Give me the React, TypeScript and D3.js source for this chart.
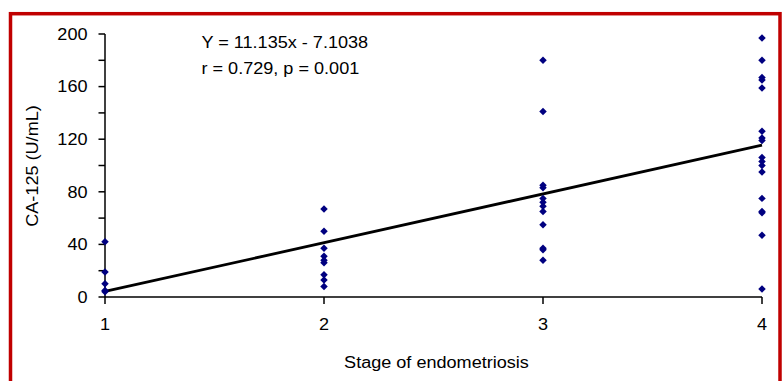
import React from "react";
import * as d3 from "d3";

const stages = [1, 2, 3, 4];
const stage1 = [42, 19, 10, 5, 4];
const stage2 = [67, 50, 37, 31, 28, 26, 17, 13, 8];
const stage3 = [180, 141, 85, 83, 75, 72, 69, 65, 55, 37, 36, 28];
const stage4 = [197, 180, 167, 165, 159, 126, 121, 119, 106, 103, 100, 95, 75, 65, 64, 47, 6];
const yTicks = [0, 20, 40, 60, 80, 100, 120, 140, 160, 180, 200];
const yLabels = [0, 40, 80, 120, 160, 200];
const trendSlope = 37.1;
const trendIntercept = -32.9;
const equationLines = ["Y = 11.135x - 7.1038", "r = 0.729, p = 0.001"];
const xTitle = "Stage of endometriosis";
const yTitle = "CA-125 (U/mL)";

const W = 782;
const H = 381;
const SX = 1.13;
const FONT = "'Liberation Sans', Arial, sans-serif";

export default function App() {
  const x = d3.scaleLinear().domain([1, 4]).range([105, 762]);
  const y = d3.scaleLinear().domain([0, 200]).range([297, 34]);
  const groups = [stage1, stage2, stage3, stage4];
  const pts: { s: number; v: number }[] = [];
  groups.forEach((g, i) => g.forEach((v) => pts.push({ s: stages[i], v })));
  const marker = d3.symbol().type(d3.symbolSquare).size(28)();
  const trend = d3
    .line<number>()
    .x((s) => x(s))
    .y((s) => y(trendSlope * s + trendIntercept));

  const T = (props: any) => {
    const { tx, ty, rot, children, ...rest } = props;
    return (
      <text
        transform={`translate(${tx},${ty})${rot ? ` rotate(${rot})` : ""} scale(${SX},1)`}
        fontFamily={FONT}
        fontSize={16}
        fill="#000"
        {...rest}
      >
        {children}
      </text>
    );
  };

  return (
    <svg
      width={W}
      height={H}
      style={{ position: "absolute", left: 0, top: 0, background: "#fff" }}
    >
      <rect x={10.5} y={13.7} width={769.5} height={400} fill="#fff" stroke="#c00000" strokeWidth={3.5} />
      {/* y axis */}
      <line x1={x(1)} x2={x(1)} y1={y(200)} y2={y(0)} stroke="#000" strokeWidth={1.5} />
      {yTicks.map((t) => (
        <line key={t} x1={x(1) - 6.5} x2={x(1)} y1={y(t)} y2={y(t)} stroke="#000" strokeWidth={1.5} />
      ))}
      {yLabels.map((t) => (
        <T key={t} tx={87.5} ty={y(t) + 5.8} textAnchor="end">
          {t}
        </T>
      ))}
      {/* x axis */}
      <line x1={x(1)} x2={x(4)} y1={y(0)} y2={y(0)} stroke="#000" strokeWidth={1.5} />
      {stages.map((s) => (
        <line key={s} x1={x(s)} x2={x(s)} y1={y(0)} y2={y(0) + 7} stroke="#000" strokeWidth={1.5} />
      ))}
      {stages.map((s) => (
        <T key={s} tx={x(s)} ty={329.5} textAnchor="middle">
          {s}
        </T>
      ))}
      <T tx={(x(1) + x(4)) / 2 + 3} ty={368} textAnchor="middle">
        {xTitle}
      </T>
      <T tx={38} ty={166} rot={-90} textAnchor="middle">
        {yTitle}
      </T>
      {/* trend line */}
      <path d={trend([1, 4]) || ""} stroke="#000" strokeWidth={2.8} fill="none" />
      {/* points */}
      {pts.map((p, i) => (
        <path
          key={i}
          d={marker || ""}
          transform={`translate(${x(p.s)},${y(p.v)}) rotate(45)`}
          fill="#000080"
        />
      ))}
      {equationLines.map((l, i) => (
        <T key={i} tx={201.5} ty={47.5 + i * 26.7} textAnchor="start">
          {l}
        </T>
      ))}
    </svg>
  );
}
